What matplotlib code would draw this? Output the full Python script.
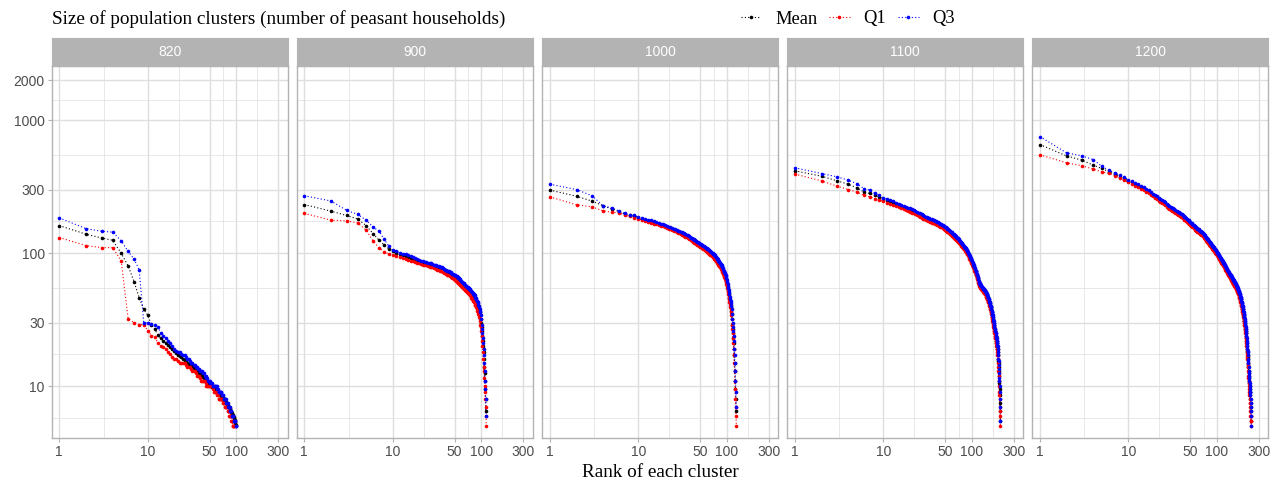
import matplotlib
matplotlib.use("Agg")
import matplotlib.pyplot as plt
from matplotlib.lines import Line2D
import numpy as np

# ---------------- data ----------------
panels = ["820", "900", "1000", "1100", "1200"]

mean_820 = [161,139,130,125,100,80,61,46,38,34,
            29,26.7,24.2,23,22,21,20.3,19.6,19,18.2,
            17.6,17.2,16.8,16.4,16,15.7,15.3,15,14.7,14.4,
            14.1,13.9,13.6,13.4,13.1,12.9,12.7,12.5,12.3,12.1,
            11.9,11.7,11.5,11.3,11.1,10.9,10.7,10.6,10.4,10.3,
            10.1,10,9.9,9.8,9.7,9.6,9.5,9.4,9.3,9.2,
            9.1,9,8.9,8.8,8.7,8.6,8.5,8.4,8.3,8.2,
            8.1,8,7.9,7.8,7.7,7.6,7.5,7.4,7.3,7.2,
            7.1,7,6.9,6.8,6.7,6.6,6.5,6.4,6.3,6.2,
            6.1,6,5.9,5.8,5.7,5.6,5.4,5.3,5.1,5]
q1_820 = [131,114,110,110,88,32,30,29,29,26,
          24,23.5,21,20,19.5,19,18,17.5,16.5,16,
          16,15.5,15,15,15,15,14.5,14,14,14,
          13.5,13,13,13,12.5,12,12,12,11.5,11,
          11,11,11,11,10.5,10,10,10,10,10,
          10,10,10,10,9.5,9,9,9,9,9,
          8.5,8.5,8,8,8,8,8,8,8,7.5,
          7.5,7.5,7.5,7,7,7,7,7,7,6.5,
          6.5,6.5,6,6,6,6,6,5.5,5.5,5.5,
          5,5,5,5,5]
q3_820 = [184,153,146,144,124,103,90,75,30,30,
          29.5,29,28,25,24,23,22,21,20,19,
          18.5,18,18,17.5,17,17,16.5,16,16,15.5,
          15,15,14.5,14.5,14,14,13.5,13.5,13,13,
          13,12.5,12.5,12,12,11.5,11.5,11,11,11,
          10.5,10.5,10.5,10,10,10,10,10,10,10,
          9.5,9.5,9,9,9,9,9,9,8.5,8.5,
          8.5,8,8,8,8,8,7.5,7.5,7.5,7.5,
          7,7,7,7,6.5,6.5,6.5,6.5,6,6,
          6,6,6,5.5,5.5,5.5,5.5,5.5,5,5]

mean_900 = [232,207,192,181,161,140,125,115,108,103,
            100,98,97,95,94,92,91,90,88,87,
            86,85,84,84,83,82,81,81,80,79,
            79,78,78,77,76,76,75,74,73,73,
            72,72,71,70,70,69,68,68,67,66,
            66,65,65,64,63,63,62,61,60,59,
            59,58,58,57,56,56,55,55,54,54,
            53,53,52,52,51,50,50,49,49,48,
            47,47,46,46,45,44,44,43,42,42,
            41,40,39,38,37,36,35,34,32,30,
            28,26,24,22,20,18,16,14,12.5,11,
            9.5,8,6.5]
q1_900 = [199,177,175,169,149,123,110,102,99,97,
          95,93,92,91,89,88,87,86,85,84,
          83,82,82,81,80,79,79,78,77,77,
          76,75,75,74,73,73,72,71,71,70,
          69,69,68,67,67,66,65,65,64,63,
          63,62,61,61,60,59,59,58,57,56,
          56,55,55,54,53,53,52,52,51,50,
          50,49,49,48,48,47,46,46,45,45,
          44,43,43,42,41,41,40,39,38,37,
          37,36,35,34,33,32,31,29,28,26,
          24,22,20,18,16,14,13,11.5,10,9,
          8,7,6,5]
q3_900 = [270,247,210,196,177,157,146,127,113,105,
          103,101,99,98,96,95,93,92,90,89,
          88,87,86,86,85,84,84,83,82,81,
          81,80,80,79,78,78,77,76,75,75,
          74,74,73,72,72,71,70,70,69,68,
          68,67,67,66,65,65,64,63,62,61,
          61,60,60,59,58,58,57,57,56,56,
          55,55,54,54,53,52,52,51,51,50,
          49,49,48,48,47,46,46,45,44,44,
          43,42,41,40,39,38,37,36,34,32,
          29,27,25,23,21,19,17,15,13,11,
          9.5,8,6]

mean_1000 = [298,268,246,227,215,205,197,192,189,184,
             181,178,175,173,170,168,166,164,162,159,
             157,155,154,152,150,149,147,145,144,142,
             141,139,138,136,135,133,131,130,128,126,
             125,124,123,122,121,119,118,117,116,115,
             114,113,112,111,110,109,108,107,106,105,
             104,103,102,101,100,99,99,98,97,96,
             95,94,93,92,91,90,89,88,87,85,
             84,83,82,81,80,79,78,77,75,74,
             73,71,70,69,68,67,65,64,62,60,
             58,56,54,52,50,48,46,44,42,41,
             39,37,35,32,29,27,25,23,21,19,
             17,15,13,11,9.5,8,6.5]
q1_1000 = [265,231,223,208,203,201,193,189,185,182,
           178,175,172,170,167,165,163,161,159,156,
           154,152,151,149,147,146,144,142,141,139,
           138,136,135,133,132,130,128,127,125,123,
           122,121,120,119,118,116,115,114,113,112,
           111,110,109,108,107,106,105,104,103,102,
           101,100,99,98,97,96,96,95,94,93,
           92,91,90,89,88,87,86,85,84,82,
           81,80,79,78,77,76,75,74,72,71,
           70,68,67,66,65,64,62,61,59,57,
           55,53,51,49,47,45,43,41,39,38,
           36,34,32,29,27,25,23,21,19,17,
           15,13,11,9.5,8,7,6,5]
q3_1000 = [330,301,270,227,219,208,199,195,192,187,
           184,181,178,176,173,171,169,167,165,162,
           160,158,157,155,153,152,150,148,147,145,
           144,142,141,139,138,136,134,133,131,129,
           128,127,126,125,124,122,121,120,119,118,
           117,116,115,114,113,112,111,110,109,108,
           107,106,105,104,103,102,102,101,100,99,
           98,97,96,95,94,93,92,91,90,88,
           87,86,85,84,83,82,81,80,78,77,
           76,74,73,72,71,70,68,67,65,63,
           61,59,57,55,53,51,49,47,45,44,
           42,40,38,35,32,30,28,26,24,22,
           19,17,15,13,11,9,7]

mean_1100 = [416,379,350,330,310,289,281,273,265,257,
             251,245,240,235,231,227,223,220,216,213,
             210,207,204,201,198,195,192,189,186,183,
             182,180,179,177,176,174,173,172,171,169,
             168,167,165,164,162,161,160,158,157,155,
             153,152,150,148,147,145,143,142,140,138,
             137,136,134,133,132,131,129,128,127,126,
             124,123,122,121,120,118,117,116,114,113,
             112,110,109,108,107,105,104,103,101,100,
             99,97,96,94,93,92,90,89,88,86,
             85,83,82,80,79,78,76,75,74,73,
             71,70,69,68,66,65,64,62,61,60,
             59,59,58,58,57,57,56,56,55,55,
             55,54,54,54,53,53,52,52,52,51,
             51,51,50,50,49,49,48,48,47,47,
             46,46,45,45,44,44,43,42,42,41,
             40,40,39,38,38,37,36,35,35,34,
             33,33,32,31,30,30,29,28,28,27,
             26,26,25,25,24,24,23,23,22,22,
             21,21,20,19,19,18,17,16,15.5,15,
             14,13,12,11,10.5,9.5,8.5,7.5,6.5,5.5]
q1_1100 = [393,350,319,301,288,273,265,257,250,245,
           240,235,230,226,222,218,214,211,208,205,
           202,199,196,193,190,188,185,182,180,177,
           176,175,173,172,170,169,168,166,165,163,
           162,161,160,158,157,156,154,153,152,150,
           148,147,145,144,142,141,139,138,136,134,
           133,132,130,129,128,127,126,124,123,122,
           121,120,118,117,116,114,113,112,110,109,
           108,107,105,104,103,102,100,99,98,97,
           96,94,93,91,90,89,87,86,85,84,
           82,81,79,78,77,76,74,73,72,70,
           69,68,66,65,64,63,61,60,59,58,
           57,57,56,56,55,55,54,54,53,53,
           53,52,52,52,51,51,50,50,50,49,
           49,49,48,48,47,47,46,46,45,45,
           44,44,43,43,42,42,41,40,40,39,
           38,38,37,36,36,35,34,33,33,32,
           31,31,30,29,28,28,27,26,26,25,
           24,24,23,23,22,22,21,21,20,20,
           19,19,18,17,17,16,15,14,13,12.5,
           12,11,10,9,8.5,8,7,6.5,6,5]
q3_1100 = [438,397,375,354,334,306,298,281,273,262,
           256,250,245,240,236,232,228,224,220,217,
           214,211,208,205,202,199,196,193,190,187,
           186,184,183,181,180,178,177,175,174,172,
           171,170,168,167,165,164,163,161,160,158,
           156,155,153,151,150,148,146,145,143,141,
           140,139,137,136,135,134,132,131,130,129,
           127,126,124,123,122,120,119,118,116,115,
           114,112,111,110,109,107,106,105,103,102,
           101,99,98,96,95,94,92,91,90,88,
           87,85,84,82,81,80,78,77,76,74,
           73,72,70,69,68,66,65,64,62,61,
           60,60,59,59,58,58,57,57,56,56,
           56,55,55,55,54,54,53,53,53,52,
           52,52,51,51,50,50,49,49,48,48,
           47,47,46,46,45,45,44,43,43,42,
           41,41,40,39,39,38,37,36,36,35,
           34,34,33,32,31,31,30,29,29,28,
           27,27,26,26,25,25,24,24,23,23,
           22,22,21,20,20,19,18,17,16,15.5,
           14.5,13.5,12.5,11.5,11,10,9,8,7,5.5]

mean_1200 = [656,539,500,459,434,410,392,375,362,350,
             340,330,321,312,304,296,288,281,273,266,
             260,255,250,245,240,235,230,226,222,218,
             215,212,209,206,203,200,198,196,193,191,
             189,187,184,182,179,177,175,173,170,168,
             166,164,162,160,158,156,155,153,151,150,
             149,147,146,145,144,143,142,140,139,138,
             136,135,133,131,130,128,127,125,124,122,
             121,120,118,117,116,115,113,112,111,110,
             109,108,107,106,105,104,103,102,101,100,
             99,98,97,96,95,94,93,92,91,90,
             89,88,87,87,86,85,84,83,83,82,
             81,80,79,78,78,77,76,75,74,74,
             73,72,72,71,71,70,69,69,68,68,
             67,67,66,66,65,65,64,64,63,63,
             62,62,61,61,61,60,60,59,59,59,
             58,58,57,57,56,56,55,55,54,54,
             53,53,52,52,51,50,50,49,49,48,
             47,47,46,45,45,44,43,43,42,41,
             40,40,39,38,38,37,36,36,35,34,
             33,33,32,31,31,30,29,29,28,27,
             26,25,25,24,23,22,21,20,19,18.5,
             18,17,16.5,16,15,14.5,14,13,12.5,12,
             11.5,11,10.5,10,9.5,9,9,8.5,8,7.5,
             7,6.5,6,5.5]
q1_1200 = [549,478,454,429,409,398,383,366,353,341,
           331,322,313,305,297,289,282,274,267,260,
           254,248,243,238,233,229,224,220,216,212,
           209,206,203,200,197,195,193,191,188,186,
           184,181,179,177,174,172,170,168,165,163,
           161,159,158,156,154,152,150,148,147,145,
           144,143,142,141,140,139,138,137,135,134,
           132,131,129,127,126,124,123,122,120,119,
           118,116,115,114,113,111,110,109,108,107,
           106,105,104,103,102,101,100,99,98,97,
           96,95,94,93,92,91,90,89,88,87,
           86,85,84,84,83,82,81,81,80,79,
           78,78,77,76,75,75,74,73,72,72,
           71,70,70,69,69,68,67,67,66,66,
           65,65,64,64,63,63,62,62,61,61,
           60,60,59,59,59,58,58,57,57,57,
           56,56,55,55,54,54,53,53,52,52,
           51,51,50,50,49,48,48,47,47,46,
           45,45,44,43,43,42,41,41,40,39,
           38,38,37,36,36,35,34,34,33,32,
           31,31,30,29,29,28,27,27,26,25,
           24,23,23,22,21,20,19,18,17,16.5,
           16,15,14.5,14,13,12,11.5,11,10.5,10,
           9.5,9,8.5,8,7.5,7.5,7,6.5,6,6,
           5.5,5.5,5]
q3_1200 = [753,568,539,506,451,421,402,384,371,358,
           348,338,329,320,312,304,296,288,280,273,
           267,261,256,251,246,241,236,232,227,223,
           220,217,214,211,208,205,203,201,198,196,
           193,191,188,186,183,181,179,177,174,172,
           170,168,166,164,162,160,158,156,155,153,
           152,151,150,148,147,146,145,144,142,141,
           139,138,136,134,133,131,130,128,127,125,
           124,123,121,120,119,117,116,115,114,113,
           112,111,110,109,108,107,106,105,104,102,
           101,100,99,98,97,96,95,94,93,92,
           91,90,89,89,88,87,86,85,85,84,
           83,82,81,80,80,79,78,77,76,76,
           75,74,74,73,73,72,71,71,70,70,
           69,69,68,68,67,67,66,66,65,65,
           64,64,63,63,63,62,62,61,61,61,
           60,60,59,59,58,58,57,57,56,56,
           55,55,54,54,53,52,52,51,51,50,
           49,49,48,47,47,46,45,45,44,43,
           42,42,41,40,40,39,38,38,37,36,
           35,35,34,33,33,32,31,31,30,29,
           28,27,27,26,25,24,23,22,21,20,
           19,18.5,18,17,16,15.5,15,14,13,12.5,
           12,11.5,11,10.5,10,9.5,9,9,8.5,8,
           7.5,7,6.5,6,5]

series_names = ["Mean", "Q1", "Q3"]
series_colors = ["black", "red", "blue"]

x_ticks = [1, 10, 50, 100, 300]
y_ticks = [10, 30, 100, 300, 1000, 2000]

panel_data = {
    "820": [mean_820, q1_820, q3_820],
    "900": [mean_900, q1_900, q3_900],
    "1000": [mean_1000, q1_1000, q3_1000],
    "1100": [mean_1100, q1_1100, q3_1100],
    "1200": [mean_1200, q1_1200, q3_1200],
}

# ---------------- layout ----------------
W, H = 1286, 490
fig = plt.figure(figsize=(W / 100, H / 100), dpi=100)
fig.patch.set_facecolor("white")

SANS = ["Liberation Sans", "DejaVu Sans"]
SERIF = ["Liberation Serif", "DejaVu Serif"]
GRID = "#DEDEDE"
BORDER = "#B3B3B3"
TICKTXT = "#4D4D4D"

lefts = [51.7, 296.7, 542.3, 787.3, 1032.3]
pw = 235.8
ptop, pbot = 66.0, 438.0
strip_top = 38.3

xlim = (10 ** -0.086, 10 ** 2.579)
ylim = (10 ** 0.609, 10 ** 3.408)

x_minor = [10 ** 0.5, 10 ** 1.349, 10 ** 1.849, 10 ** 2.239]
y_minor = [10 ** 0.761, 10 ** 1.239, 10 ** 1.739, 10 ** 2.239, 10 ** 2.739, 10 ** 3.151]

for i, name in enumerate(panels):
    ax = fig.add_axes([lefts[i] / W, 1 - pbot / H, pw / W, (pbot - ptop) / H])
    ax.set_xscale("log")
    ax.set_yscale("log")
    ax.set_xlim(*xlim)
    ax.set_ylim(*ylim)
    for v in x_minor:
        ax.axvline(v, color=GRID, lw=0.5, zorder=0)
    for v in y_minor:
        ax.axhline(v, color=GRID, lw=0.5, zorder=0)
    for v in x_ticks:
        ax.axvline(v, color=GRID, lw=1.0, zorder=0)
    for v in y_ticks:
        ax.axhline(v, color=GRID, lw=1.0, zorder=0)

    for vals, col in zip(panel_data[name], series_colors):
        ranks = np.arange(1, len(vals) + 1)
        ax.plot(ranks, vals, color=col, lw=0.8, linestyle=(0, (1, 2)), zorder=2)
        ax.plot(ranks, vals, color=col, lw=0, marker="o", ms=2.6, mew=0, zorder=3)

    ax.set_xticks(x_ticks)
    ax.set_xticklabels([str(t) for t in x_ticks])
    ax.xaxis.set_minor_locator(matplotlib.ticker.NullLocator())
    ax.yaxis.set_minor_locator(matplotlib.ticker.NullLocator())
    ax.set_yticks(y_ticks)
    if i == 0:
        ax.set_yticklabels([str(t) for t in y_ticks])
        ax.tick_params(axis="y", length=3.0, width=0.8, color=BORDER, labelsize=10,
                       labelcolor=TICKTXT, pad=2)
    else:
        ax.tick_params(axis="y", length=0, labelleft=False)
    ax.tick_params(axis="x", length=3.0, width=0.8, color=BORDER, labelsize=10,
                   labelcolor=TICKTXT, pad=2)
    for lab in ax.get_xticklabels() + ax.get_yticklabels():
        lab.set_family(SANS)
    for sp in ax.spines.values():
        sp.set_color(BORDER)
        sp.set_linewidth(1.0)

    # strip
    sax = fig.add_axes([lefts[i] / W, 1 - ptop / H, pw / W, (ptop - strip_top) / H])
    sax.set_facecolor(BORDER)
    sax.set_xticks([])
    sax.set_yticks([])
    for sp in sax.spines.values():
        sp.set_color(BORDER)
    sax.text(0.5, 0.5, name, color="white", ha="center", va="center",
             fontsize=10, family=SANS, transform=sax.transAxes)

fig.text(51.7 / W, 1 - 19 / H, "Size of population clusters (number of peasant households)",
         ha="left", va="center", fontsize=13.8, family=SERIF, color="black")
fig.text(660 / W, 1 - 472 / H, "Rank of each cluster", ha="center", va="center",
         fontsize=13.8, family=SERIF, color="black")

handles = [Line2D([0], [0], color=c, lw=0.8, linestyle=(0, (1, 2)), marker="o",
                  ms=2.6, mew=0) for c in series_colors]
leg = fig.legend(handles, series_names, loc="center", bbox_to_anchor=(848 / W, 1 - 19 / H),
                 ncol=3, frameon=False, handlelength=1.1, handletextpad=0.75,
                 columnspacing=0.65, prop={"family": SERIF, "size": 13.3},
                 borderaxespad=0, borderpad=0)

fig.savefig("out.png", dpi=100, facecolor="white")
